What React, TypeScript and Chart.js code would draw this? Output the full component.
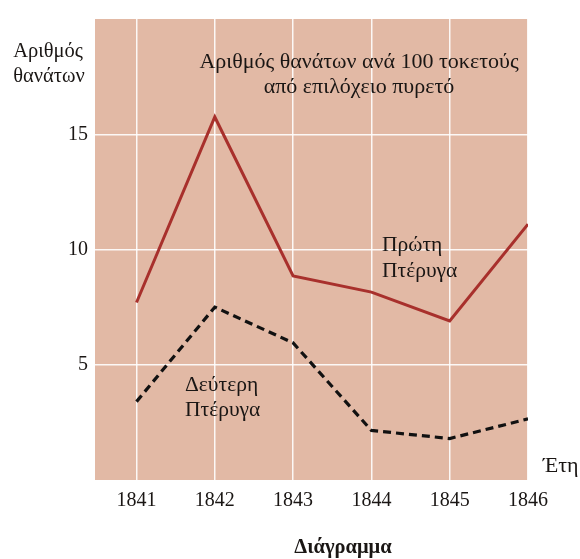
import React, { useEffect, useRef } from "react";
import { Chart, registerables } from "chart.js";

Chart.register(...registerables);

const years = [1841, 1842, 1843, 1844, 1845, 1846];
const firstWard = [7.7, 15.75, 8.85, 8.15, 6.9, 11.1];
const secondWard = [3.4, 7.5, 5.95, 2.15, 1.8, 2.65];
const yTicks = [5, 10, 15];

const yTitle = ["Αριθμός", "θανάτων"];
const chartTitle = ["Αριθμός θανάτων ανά 100 τοκετούς", "από επιλόχειο πυρετό"];
const firstLabel = ["Πρώτη", "Πτέρυγα"];
const secondLabel = ["Δεύτερη", "Πτέρυγα"];
const xTitle = "Έτη";
const caption = "Διάγραμμα";

const SERIF = '"Liberation Serif", "Times New Roman", serif';
const PINK = "#e2b9a5";
const TEXT = "#1a1614";

const bgPlugin = {
  id: "bgPlugin",
  beforeDraw(chart: any) {
    const { ctx, chartArea } = chart;
    ctx.save();
    ctx.fillStyle = PINK;
    ctx.fillRect(chartArea.left, chartArea.top, chartArea.right - chartArea.left, chartArea.bottom - chartArea.top);
    ctx.restore();
  },
};

const textPlugin = {
  id: "textPlugin",
  afterDraw(chart: any) {
    const ctx = chart.ctx;
    ctx.save();
    ctx.fillStyle = TEXT;
    ctx.textBaseline = "alphabetic";
    ctx.textAlign = "center";
    ctx.font = `20.5px ${SERIF}`;
    ctx.fillText(yTitle[0], 48, 57);
    ctx.fillText(yTitle[1], 49, 82);
    ctx.font = `22px ${SERIF}`;
    ctx.fillText(chartTitle[0], 359, 68);
    ctx.fillText(chartTitle[1], 359, 93);
    ctx.textAlign = "left";
    ctx.font = `21.5px ${SERIF}`;
    ctx.fillText(firstLabel[0], 382, 251);
    ctx.fillText(firstLabel[1], 382, 277);
    ctx.fillText(secondLabel[0], 185, 391);
    ctx.fillText(secondLabel[1], 185, 416);
    ctx.font = `22px ${SERIF}`;
    ctx.fillText(xTitle, 543, 472);
    ctx.font = `bold 20.5px ${SERIF}`;
    ctx.textAlign = "center";
    ctx.fillText(caption, 343, 553);
    ctx.restore();
  },
};

export default function App() {
  const ref = useRef<HTMLCanvasElement | null>(null);

  useEffect(() => {
    if (!ref.current) return;
    const chart = new Chart(ref.current, {
      type: "line",
      data: {
        datasets: [
          {
            label: "Πρώτη Πτέρυγα",
            data: years.map((x, i) => ({ x, y: firstWard[i] })),
            borderColor: "#a8302c",
            borderWidth: 3,
            pointRadius: 0,
            tension: 0,
          },
          {
            label: "Δεύτερη Πτέρυγα",
            data: years.map((x, i) => ({ x, y: secondWard[i] })),
            borderColor: "#111111",
            borderWidth: 3.2,
            borderDash: [8, 5],
            pointRadius: 0,
            tension: 0,
          },
        ],
      },
      options: {
        responsive: false,
        animation: false,
        layout: { padding: { top: 12, right: 52, left: 0, bottom: 0 } },
        plugins: {
          legend: { display: false },
          tooltip: { enabled: false },
          title: { display: false },
        },
        scales: {
          x: {
            type: "linear",
            min: 1840.47,
            max: 1846,
            afterBuildTicks: (s: any) => {
              s.ticks = years.map((v) => ({ value: v }));
            },
            afterFit: (s: any) => {
              s.height = 79;
            },
            grid: { color: "rgba(255,255,255,0.9)", lineWidth: 1.5, drawTicks: false },
            border: { display: false },
            ticks: {
              padding: 9,
              color: TEXT,
              font: { family: SERIF, size: 20 },
              callback: (v: any) => String(v),
              maxRotation: 0,
              autoSkip: false,
            },
          },
          y: {
            min: 0,
            max: 20,
            afterBuildTicks: (s: any) => {
              s.ticks = yTicks.map((v) => ({ value: v }));
            },
            afterFit: (s: any) => {
              s.width = 95;
            },
            grid: { color: "rgba(255,255,255,0.9)", lineWidth: 1.5, drawTicks: false },
            border: { display: false },
            ticks: {
              padding: 7,
              color: TEXT,
              font: { family: SERIF, size: 20 },
              callback: (v: any) => String(v),
            },
          },
        },
      },
      plugins: [bgPlugin, textPlugin],
    });
    return () => chart.destroy();
  }, []);

  return (
    <div style={{ position: "absolute", left: 0, top: 0, width: 580, height: 559, background: "#ffffff" }}>
      <canvas ref={ref} width={580} height={559} style={{ display: "block", width: 580, height: 559 }} />
    </div>
  );
}
